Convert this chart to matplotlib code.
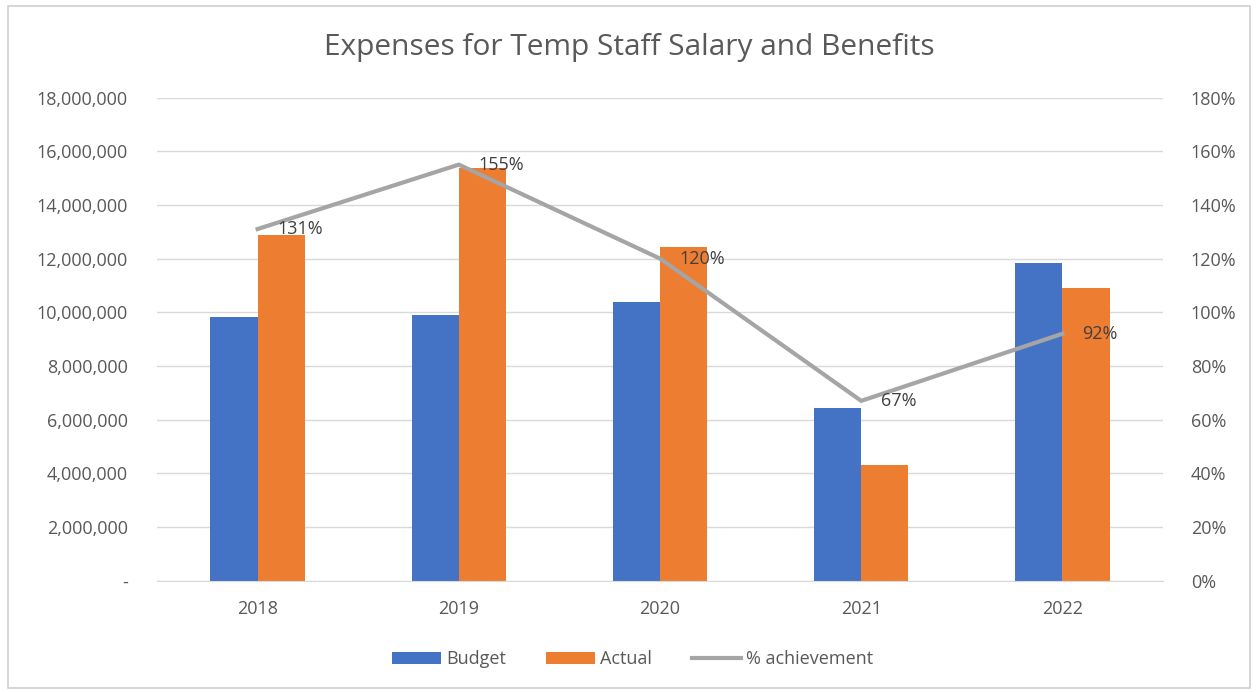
import matplotlib.pyplot as plt
import matplotlib.ticker as mticker
from matplotlib.patches import Rectangle
import numpy as np

plt.rcParams['font.family'] = ['Open Sans', 'DejaVu Sans']

# data
years = ["2018", "2019", "2020", "2021", "2022"]
budget = [9810000, 9910000, 10370000, 6420000, 11840000]
actual = [12870000, 15390000, 12440000, 4300000, 10910000]
achievement = [1.31, 1.55, 1.20, 0.67, 0.92]
pct_labels = ["131%", "155%", "120%", "67%", "92%"]

blue = "#4472C4"
orange = "#ED7D31"
line_gray = "#A5A5A5"
text_gray = "#595959"
grid_gray = "#D9D9D9"

fig = plt.figure(figsize=(12.58, 6.92), dpi=100)
ax = fig.add_axes([0.1248, 0.1608, 0.7997, 0.6983])
ax2 = ax.twinx()

x = np.arange(len(years))
w = 0.235
ax.bar(x - w / 2, budget, w, color=blue, label="Budget", zorder=2)
ax.bar(x + w / 2, actual, w, color=orange, label="Actual", zorder=2)

ax2.plot(x, achievement, color=line_gray, lw=3, label="% achievement",
         solid_joinstyle="miter", zorder=3)
for xi, yi, lab in zip(x, achievement, pct_labels):
    ax2.annotate(lab, (xi, yi), xytext=(14, 0), textcoords="offset points",
                 ha="left", va="center", fontsize=13, color="#404040")

ax.set_xlim(-0.5, len(years) - 0.5)
ax.set_ylim(0, 18000000)
ax2.set_ylim(0, 1.8)
ax.set_yticks(np.arange(0, 18000001, 2000000))
ax2.set_yticks(np.arange(0, 1.81, 0.2))


def money(v, pos):
    return "-" if v == 0 else f"{v:,.0f}"


ax.yaxis.set_major_formatter(mticker.FuncFormatter(money))
ax2.yaxis.set_major_formatter(mticker.FuncFormatter(lambda v, p: f"{v * 100:.0f}%"))

ax.set_xticks(x)
ax.set_xticklabels(years)
ax.grid(axis="y", color=grid_gray, lw=1, zorder=0)
ax.set_axisbelow(True)

for a in (ax, ax2):
    for s in a.spines.values():
        s.set_visible(False)
    a.tick_params(length=0, colors=text_gray, labelsize=13)
ax.spines["bottom"].set_visible(True)
ax.spines["bottom"].set_color(grid_gray)
ax.tick_params(axis="y", pad=21)
ax.tick_params(axis="x", pad=14)
ax2.tick_params(axis="y", pad=20)

fig.text(0.5, 0.932, "Expenses for Temp Staff Salary and Benefits",
         ha="center", va="center", fontsize=21.5, color=text_gray)

h1, l1 = ax.get_legend_handles_labels()
h2, l2 = ax2.get_legend_handles_labels()
fig.legend(h1 + h2, l1 + l2, loc="center", bbox_to_anchor=(0.503, 0.047),
           ncol=3, frameon=False, fontsize=13, labelcolor=text_gray,
           handlelength=2.7, handleheight=0.6, handletextpad=0.3,
           columnspacing=2.2)

fig.patches.append(Rectangle((0.006, 0.006), 0.988, 0.986, transform=fig.transFigure,
                             fill=False, ec="#D0D0D0", lw=1.2))

fig.savefig("out.png", dpi=100)
